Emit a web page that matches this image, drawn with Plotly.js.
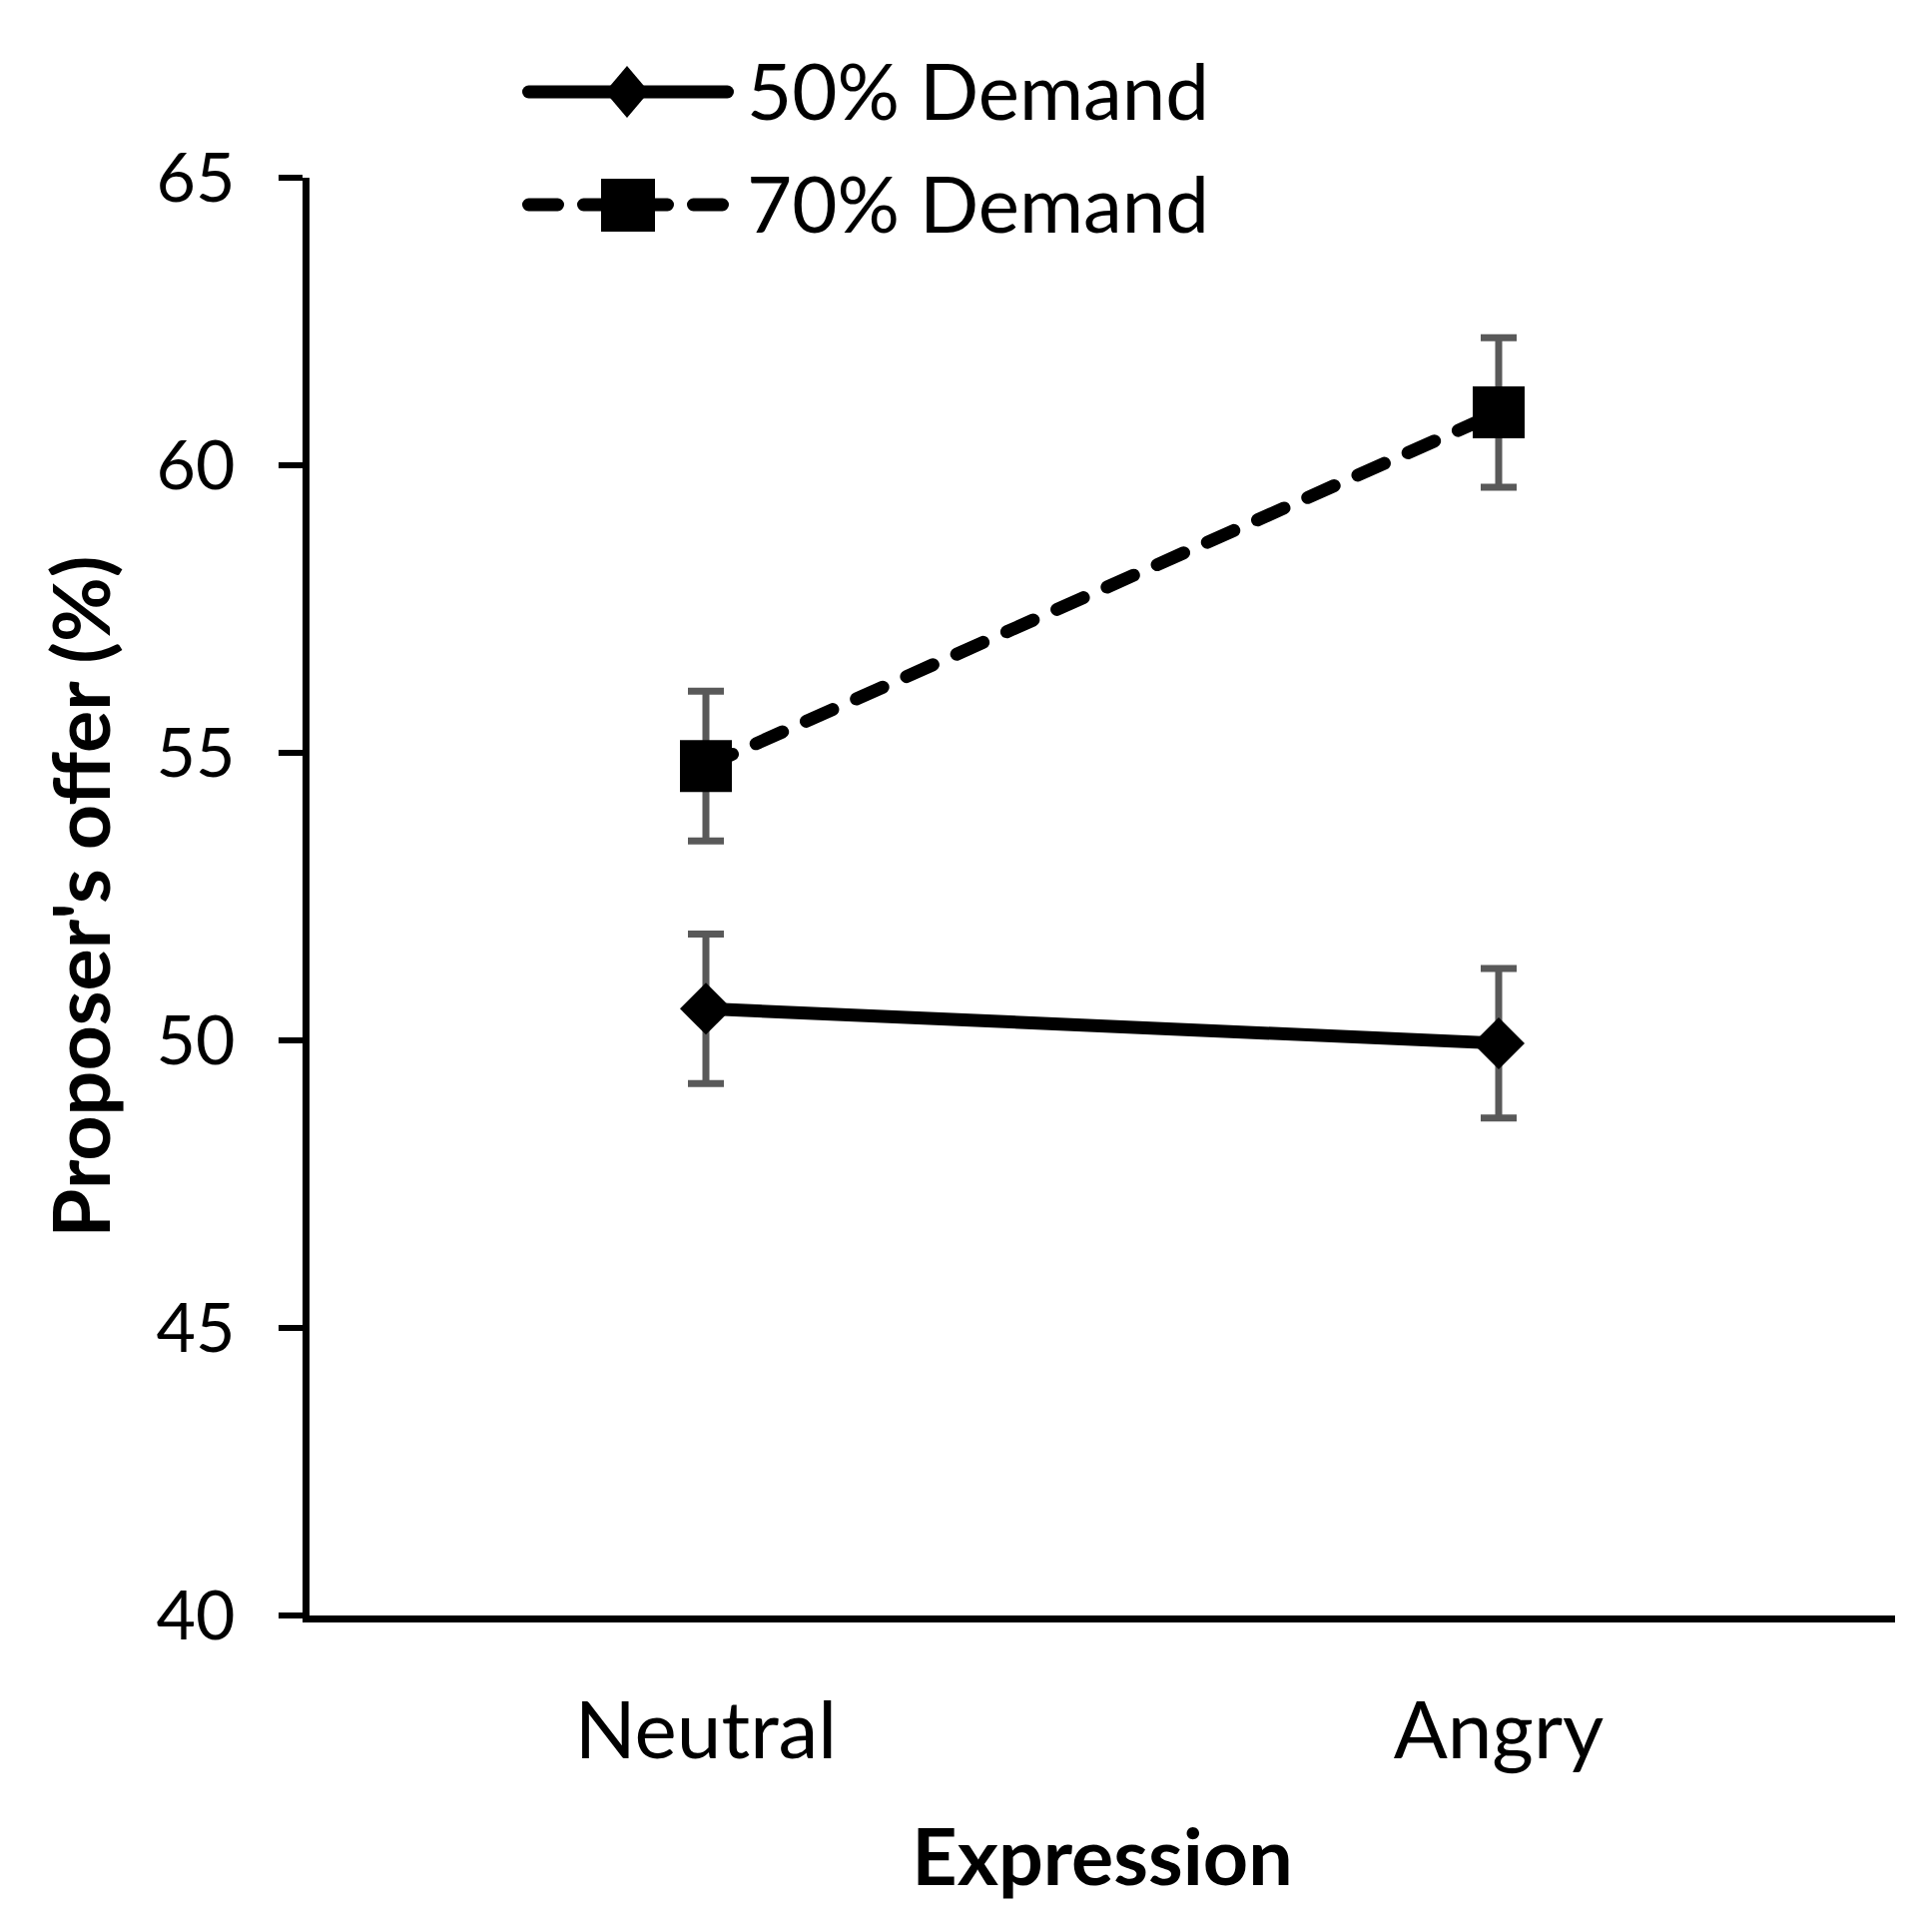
<!DOCTYPE html>
<html>
<head>
<meta charset="utf-8">
<script src="https://cdn.plot.ly/plotly-3.0.1.min.js"></script>
<style>
  html, body { margin: 0; padding: 0; background: #fff; }
  .scatterlayer .js-line { stroke-linecap: round; }
  .shapelayer path { stroke-linecap: round; }
</style>
</head>
<body>
<div id="chart" style="width:1935px;height:1931px;"></div>
<script>
// values
const categories = ['Neutral', 'Angry'];
const demand50 = [50.55, 49.95];
const demand70 = [54.77, 60.92];
const err50 = [1.3, 1.3];
const err70 = [1.3, 1.3];
const seriesNames = ['50% Demand', '70% Demand'];
const yTicks = [40, 45, 50, 55, 60, 65];

const W = 1935, H = 1931;
const M = {l: 310, r: 37, t: 178, b: 313};
const pw = W - M.l - M.r, ph = H - M.t - M.b;
// pixel -> paper helpers for the hand-made legend
const px = x => (x - M.l) / pw;
const py = y => (H - M.b - y) / ph;

const errStyle = {type: 'data', visible: true, color: '#595959', thickness: 7, width: 18};

const traces = [
    {
        x: categories, y: demand50, name: seriesNames[0],
        type: 'scatter', mode: 'lines+markers',
        line: {color: '#000', width: 13},
        marker: {symbol: 'diamond', size: 40, color: '#000'},
        error_y: Object.assign({array: err50}, errStyle)
    },
    {
        x: categories, y: demand70, name: seriesNames[1],
        type: 'scatter', mode: 'lines+markers',
        line: {color: '#000', width: 13, dash: '29px,26px'},
        marker: {symbol: 'square', size: 52, color: '#000'},
        error_y: Object.assign({array: err70}, errStyle)
    }
];

// legend drawn by hand so the long sample lines match
const legY = [92, 205];
const shapes = [
    {type: 'line', xref: 'paper', yref: 'paper', x0: px(529.5), x1: px(728.5), y0: py(legY[0]), y1: py(legY[0]),
     line: {color: '#000', width: 13}},
    {type: 'path', xref: 'paper', yref: 'paper', fillcolor: '#000', line: {width: 0},
     path: 'M' + px(628) + ',' + py(legY[0] - 26) + ' L' + px(650) + ',' + py(legY[0]) +
           ' L' + px(628) + ',' + py(legY[0] + 26) + ' L' + px(606) + ',' + py(legY[0]) + ' Z'},
    {type: 'line', xref: 'paper', yref: 'paper', x0: px(529.5), x1: px(724), y0: py(legY[1]), y1: py(legY[1]),
     line: {color: '#000', width: 13, dash: '29px,26px'}},
    {type: 'rect', xref: 'paper', yref: 'paper', x0: px(602), x1: px(656), y0: py(legY[1] - 26), y1: py(legY[1] + 27),
     fillcolor: '#000', line: {width: 0}}
];

const annotations = seriesNames.map((name, i) => ({
    text: name, showarrow: false, xref: 'paper', yref: 'paper',
    x: px(746), xanchor: 'left', y: py(legY[i] - 2), yanchor: 'middle',
    font: {family: 'Lato, sans-serif', size: 78, color: '#000'}
}));

const layout = {
    width: W, height: H,
    margin: M,
    paper_bgcolor: '#fff', plot_bgcolor: '#fff',
    showlegend: false,
    font: {family: 'Lato, sans-serif', color: '#000'},
    xaxis: {
        type: 'category', range: [-0.5, 1.5],
        showline: true, linecolor: '#000', linewidth: 7,
        showgrid: false, zeroline: false, ticks: '',
        tickfont: {size: 80, color: '#000'}, ticklabelstandoff: 40,
        title: {text: 'Expression', font: {size: 79, weight: 'bold', color: '#000'}, standoff: 58}
    },
    yaxis: {
        range: [40, 65], tickvals: yTicks,
        showline: true, linecolor: '#000', linewidth: 7,
        showgrid: false, zeroline: false,
        ticks: 'outside', ticklen: 24, tickwidth: 6, tickcolor: '#000',
        tickfont: {size: 68, color: '#000'}, ticklabelstandoff: 30,
        title: {text: "Proposer's offer (%)", font: {size: 79, weight: 'bold', color: '#000'}, standoff: 22}
    },
    shapes: shapes,
    annotations: annotations
};

Plotly.newPlot('chart', traces, layout, {staticPlot: true});
</script>
</body>
</html>
